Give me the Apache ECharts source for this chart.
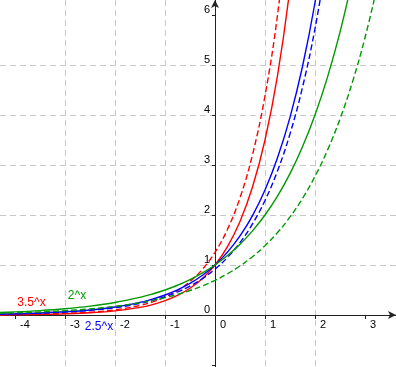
<!DOCTYPE html>
<html>
<head>
<meta charset="utf-8">
<script src="https://cdn.jsdelivr.net/npm/echarts@6/dist/echarts.min.js"></script>
<style>html,body{margin:0;padding:0;background:#fff}#c{width:396px;height:367px}</style>
</head>
<body>
<div id="c"></div>
<script>
// sample x positions
var xs = [-4.5,-4,-3.5,-3,-2.5,-2,-1.5,-1.25,-1,-0.75,-0.5,-0.25,0,0.25,0.5,0.75,1,1.25,1.5,1.75,2,2.25,2.5,2.75,3,3.25];
// 3.5^x and its dashed companion
var red = [0.0036,0.0067,0.0125,0.0233,0.0436,0.0816,0.1527,0.2089,0.2857,0.3908,0.5345,0.7311,1,1.368,1.871,2.559,3.5,4.787,6.548,8.956];
var redDash = [0.0045,0.0083,0.0156,0.0292,0.0547,0.1023,0.1913,0.2617,0.3579,0.4896,0.6696,0.9159,1.253,1.714,2.344,3.206,4.385,5.997,8.203];
// 2.5^x and its dashed companion
var blue = [0.0162,0.0256,0.0405,0.064,0.1012,0.16,0.253,0.3181,0.4,0.503,0.6325,0.7953,1,1.257,1.581,1.988,2.5,3.144,3.953,4.970,6.25,7.859];
var blueDash = [0.0148,0.0235,0.0371,0.0586,0.0927,0.1466,0.2318,0.2915,0.3665,0.4609,0.5795,0.7287,0.9163,1.152,1.449,1.822,2.291,2.881,3.622,4.554,5.727,7.201];
// 2^x and its dashed companion
var green = [0.0442,0.0625,0.0884,0.125,0.1768,0.25,0.3536,0.4204,0.5,0.5946,0.7071,0.8409,1,1.189,1.414,1.682,2,2.378,2.828,3.364,4,4.757,5.657,6.727];
var greenDash = [0.0306,0.0433,0.0613,0.0866,0.1225,0.1733,0.2451,0.2914,0.3466,0.4121,0.4901,0.5829,0.6931,0.8243,0.9803,1.166,1.386,1.649,1.961,2.332,2.773,3.297,3.921,4.663,5.545,6.594];
// tick labels
var xTicks = [-4,-3,-2,-1,0,1,2,3];
var yTicks = [-1,0,1,2,3,4,5,6];
var yLabels = [0,1,2,3,4,5,6];
// annotation labels
var notes = [
  {text:'3.5^x', x:-3.67, y:0.24, color:'#ff0000', series:0},
  {text:'2^x', x:-2.76, y:0.38, color:'#009900', series:4},
  {text:'2.5^x', x:-2.32, y:-0.24, color:'#0000ff', series:2}
];

function pairs(vals){ var out=[]; for(var i=0;i<vals.length;i++){ out.push([xs[i], vals[i]]); } return out; }

var FONT = 'Liberation Sans, Arial, sans-serif';
var W = 396, H = 367;
var X_MIN = -4.3, X_MAX = 3.62, Y_MIN = -1.04, Y_MAX = 6.3;
// axis offsets so that the axes cross at the origin
var xAxisOffset = -H * (0 - Y_MIN) / (Y_MAX - Y_MIN);
var yAxisOffset = -W * (0 - X_MIN) / (X_MAX - X_MIN);

var series = [
  {v:red, c:'#ff0000', d:false},
  {v:redDash, c:'#ff0000', d:true},
  {v:blue, c:'#0000ff', d:false},
  {v:blueDash, c:'#0000ff', d:true},
  {v:green, c:'#009900', d:false},
  {v:greenDash, c:'#009900', d:true}
].map(function(s){
  return {
    type:'line', data:pairs(s.v), showSymbol:false, smooth:0.4, clip:true,
    lineStyle:{color:s.c, width:1.4, type: s.d ? [6,3] : 'solid'},
    z: 3
  };
});
notes.forEach(function(n){
  var s = series[n.series];
  s.markPoint = s.markPoint || {symbol:'rect', symbolSize:1, itemStyle:{color:'rgba(0,0,0,0)'}, data:[], animation:false};
  s.markPoint.data.push({coord:[n.x,n.y], label:{show:true, position:'inside', formatter:n.text, color:n.color, fontSize:12, fontFamily:FONT}});
});

var chart = echarts.init(document.getElementById('c'), null, {renderer:'canvas'});
chart.setOption({
  animation:false,
  backgroundColor:'#ffffff',
  grid:{left:0, right:0, top:0, bottom:0, containLabel:false, outerBoundsMode:'none'},
  xAxis:{
    type:'value', min:X_MIN, max:X_MAX, splitNumber:8, position:'bottom', offset:xAxisOffset,
    axisLine:{onZero:false, lineStyle:{color:'#222', width:1}, symbol:['none','arrow'], symbolSize:[6,8]},
    axisTick:{show:true, length:4, customValues:xTicks, lineStyle:{color:'#222'}},
    axisLabel:{customValues:xTicks, align:'left', margin:4, padding:[0,0,0,5], color:'#000', fontSize:11, fontFamily:FONT},
    splitLine:{show:true, showMinLine:false, showMaxLine:false, lineStyle:{color:'#c8c8c8', type:[6,4], width:1}}
  },
  yAxis:{
    type:'value', min:Y_MIN, max:Y_MAX, splitNumber:7, position:'left', offset:yAxisOffset,
    axisLine:{onZero:false, lineStyle:{color:'#222', width:1}, symbol:['none','arrow'], symbolSize:[6,8]},
    axisTick:{show:true, length:3, customValues:yTicks, lineStyle:{color:'#222'}},
    axisLabel:{customValues:yLabels, margin:5, verticalAlign:'bottom', color:'#000', fontSize:11, fontFamily:FONT},
    splitLine:{show:true, showMinLine:false, showMaxLine:false, lineStyle:{color:'#c8c8c8', type:[6,4], width:1}}
  },
  series:series
});
</script>
</body>
</html>
